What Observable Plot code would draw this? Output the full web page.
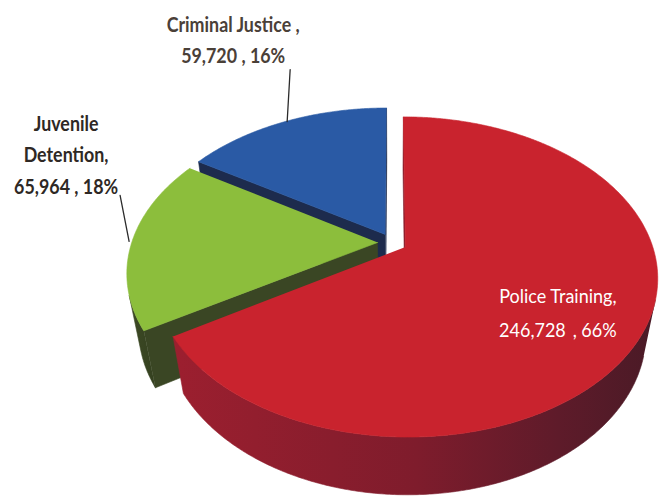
<!DOCTYPE html>
<html><head><meta charset="utf-8">
<script src="https://cdn.jsdelivr.net/npm/d3@7"></script>
<script src="https://cdn.jsdelivr.net/npm/@observablehq/plot@0.6"></script>
<style>body{margin:0;background:#fff}</style>
</head><body><div id="chart"></div>
<script>
// ---- data ----
const categories = ["Police Training", "Juvenile Detention", "Criminal Justice"];
const values = [246728, 65964, 59720];
const valueLabels = ["246,728", "65,964", "59,720"];
const percents = ["66%", "18%", "16%"];

// ---- styles ----
const topColors = ["#c9232e", "#8cbe3c", "#2a5aa5"];
const wallStops = [
  [[0, "#9c1f2f"], [0.5, "#7f1c2c"], [0.8, "#5e1b2a"], [1, "#4a1a26"]],
  [[0, "#3d4a25"], [1, "#34401f"]],
  [[0, "#22325a"], [1, "#1a2644"]]
];
const radialColors = ["#8a1c2a", "#3a4624", "#1d2b4d"];
const FONT = "Lato, 'Open Sans', sans-serif";

// ---- 3D perspective pie geometry ----
const ALPHA = 38.4 * Math.PI / 180, DIST = 4.21, DEPTH = 0.3, EXPLODE = 0.06;
const PX = 246; // pixels per unit radius
const ca = Math.cos(ALPHA), sa = Math.sin(ALPHA);
const cam = [0, -DIST * ca, DIST * sa];
function proj(u, v, z) {
  const den = DIST + v * ca - z * sa;
  return [DIST * u / den, DIST * (v * sa + z * ca) / den];
}
function visible(p, n) {
  return (cam[0] - p[0]) * n[0] + (cam[1] - p[1]) * n[1] + (cam[2] - p[2]) * n[2] > 0;
}
const pie = d3.pie().sort(null)(values);
const faces = [];
let fid = 0;
function addFace(pts, fill) {
  const id = fid++;
  for (const [u, v, z] of pts) { const [x, y] = proj(u, v, z); faces.push({id, x, y, fill}); }
}
const geom = [];
for (const i of [2, 1, 0]) {
  const {startAngle: a0, endAngle: a1} = pie[i];
  const mid = (a0 + a1) / 2;
  const ou = EXPLODE * Math.sin(mid), ov = EXPLODE * Math.cos(mid);
  const rim = (t, z, r = 1) => [ou + r * Math.sin(t), ov + r * Math.cos(t), z];
  const ctr = z => [ou, ov, z];
  geom[i] = {mid, rim};
  const n0 = [-Math.cos(a0), Math.sin(a0), 0];
  if (visible(ctr(0), n0)) addFace([ctr(0), rim(a0, 0), rim(a0, -DEPTH), ctr(-DEPTH)], radialColors[i]);
  const n1 = [Math.cos(a1), -Math.sin(a1), 0];
  if (visible(ctr(0), n1)) addFace([ctr(0), rim(a1, 0), rim(a1, -DEPTH), ctr(-DEPTH)], radialColors[i]);
  const N = Math.ceil((a1 - a0) / (0.5 * Math.PI / 180));
  const ts = d3.range(N + 1).map(k => a0 + (a1 - a0) * k / N);
  const vis = ts.filter(t => visible(rim(t, 0), [Math.sin(t), Math.cos(t), 0]));
  if (vis.length > 1) {
    addFace([...vis.map(t => rim(t, 0)), ...vis.slice().reverse().map(t => rim(t, -DEPTH))], `url(#wall${i})`);
  }
  addFace([ctr(0), ...ts.map(t => rim(t, 0))], topColors[i]);
}

// leader lines (from slice rim outward)
const [bx, by] = proj(...geom[2].rim(geom[2].mid, 0, 1.0));
const [gx, gy] = proj(...geom[1].rim(geom[1].mid, 0, 1.0));
const [rx, ry] = proj(...geom[0].rim(geom[0].mid, 0, 0.66));
const leaders = [
  {id: "cj", x: bx + 2 / PX, y: by}, {id: "cj", x: bx + 5 / PX, y: by + 52 / PX},
  {id: "jd", x: gx - 3 / PX, y: gy}, {id: "jd", x: gx - 12 / PX, y: gy + 46 / PX}
];

const W = 660, H = 503, CX = 392, CY = 242;
const chart = Plot.plot({
  width: W, height: H,
  margin: 0,
  x: {axis: null, domain: [-CX / PX, (W - CX) / PX]},
  y: {axis: null, domain: [-(H - CY) / PX, CY / PX]},
  color: {type: "identity"},
  marks: [
    Plot.line(faces, {x: "x", y: "y", z: "id", fill: "fill", stroke: "fill", strokeWidth: 0.6, curve: "linear"}),
    Plot.line(leaders, {x: "x", y: "y", z: "id", stroke: "#2b2b2b", strokeWidth: 1.3}),
    Plot.text([`${categories[2]} ,\n${valueLabels[2]} , ${percents[2]}`], {
      x: [bx], y: [by], text: d => d, dx: -52, dy: -84, lineHeight: 1.45,
      fontSize: 21, fontWeight: "bold", fill: "#4a4038", fontFamily: FONT, className: "lbl-bold"
    }),
    Plot.text([`Juvenile\nDetention,\n${valueLabels[1]} , ${percents[1]}`], {
      x: [gx], y: [gy], text: d => d, dx: -66, dy: -89, lineHeight: 1.5,
      fontSize: 21, fontWeight: "bold", fill: "#2e2824", fontFamily: FONT, className: "lbl-bold"
    }),
    Plot.text([`Police Training,\n${valueLabels[0]} \u2009, ${percents[0]}`], {
      x: [rx], y: [ry], text: d => d, dx: 0, dy: 9, lineHeight: 1.7,
      fontSize: 20, fill: "#ffffff", fontFamily: FONT, className: "lbl-reg"
    })
  ]
});
// gradients for the cylinder walls
const defs = d3.select(chart).insert("defs", ":first-child");
wallStops.forEach((stops, i) => {
  const g = defs.append("linearGradient").attr("id", `wall${i}`).attr("x1", 0).attr("x2", 1).attr("y1", 0).attr("y2", 0);
  for (const [o, c] of stops) g.append("stop").attr("offset", o).attr("stop-color", c);
});
// condense label text horizontally (the reference uses a narrow face)
const condense = (sel, k) => d3.select(chart).selectAll(sel).each(function () {
  const t = this.getAttribute("transform") || "";
  if (!t.includes("scale")) this.setAttribute("transform", t + ` scale(${k},1)`);
});
condense(".lbl-bold text", 0.85);
condense(".lbl-reg text", 0.9);
document.getElementById("chart").appendChild(chart);
</script>
</body></html>
